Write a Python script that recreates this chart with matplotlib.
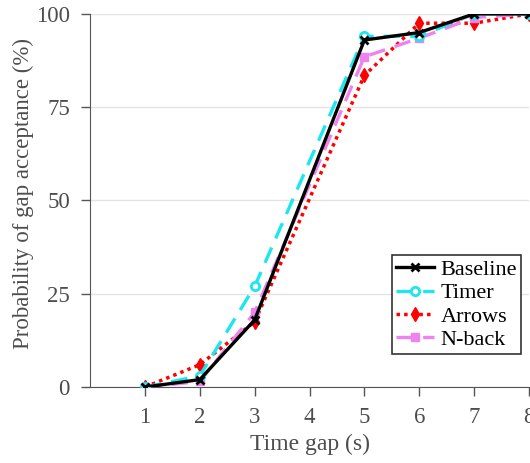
import matplotlib.pyplot as plt
import numpy as np

plt.rcParams['font.family'] = ['Liberation Serif', 'DejaVu Serif']

time_gap = [1, 2, 3, 5, 6, 7, 8]
baseline = [0, 2, 18, 93, 95, 100, 100]
timer = [0, 3, 27, 94, 94, 100, 100]
arrows = [0, 6, 17.5, 83.5, 97.5, 97.5, 100]
nback = [0, 1.5, 20, 88.5, 93.5, 99, 100]

x_ticks = [1, 2, 3, 4, 5, 6, 7, 8]
y_ticks = [0, 25, 50, 75, 100]

fig = plt.figure(figsize=(5.3, 4.63), dpi=100)
ax = fig.add_axes([0.170, 0.164, 0.828, 0.806])

ax.plot(time_gap, baseline, color='black', ls='-', lw=2.4, marker='x',
        ms=6, mew=2, label='Baseline', zorder=5)
ax.plot(time_gap, timer, color='#1EE6EE', ls=(0, (5, 3)), lw=2.4, marker='o',
        ms=6, mew=2, mfc='white', label='Timer', zorder=4)
ax.plot(time_gap, arrows, color='red', ls=(0, (1, 1.2)), lw=2.5, marker='d',
        ms=7, label='Arrows', zorder=3)
ax.plot(time_gap, nback, color='violet', ls=(0, (5, 3)), lw=2.4, marker='s',
        ms=6, label='N-back', zorder=3)

ax.set_xlim(0, 8)
ax.set_ylim(0, 100)
ax.set_xticks(x_ticks)
ax.set_yticks(y_ticks)
ax.yaxis.grid(True, color='#e3e3e3', lw=1)
ax.set_axisbelow(True)
for s in ['top', 'right']:
    ax.spines[s].set_visible(False)
for s in ['left', 'bottom']:
    ax.spines[s].set_color('#555555')
ax.tick_params(colors='#555555', labelsize=16.5, length=6.5, width=1, pad=8)
for lab in ax.get_xticklabels() + ax.get_yticklabels():
    lab.set_color('#4d4d4d')

ax.set_xlabel('Time gap (s)', fontsize=17, color='#4d4d4d', labelpad=4)
ax.set_ylabel('Probability of gap acceptance (%)', fontsize=16.5, color='#4d4d4d')
ax.yaxis.set_label_coords(-0.128, 0.52)

leg = ax.legend(loc='lower right', bbox_to_anchor=(0.983, 0.088), borderaxespad=0,
                fontsize=16, fancybox=False, edgecolor='#333333', framealpha=1,
                handlelength=1.7, handletextpad=0.3, labelspacing=0.12,
                borderpad=0.2)
leg.get_frame().set_linewidth(1.2)

fig.savefig('out.png', dpi=100)
